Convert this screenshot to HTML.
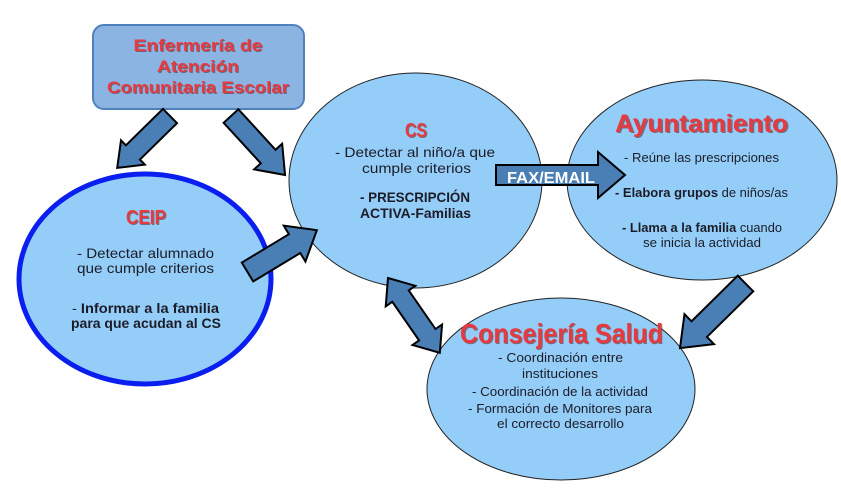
<!DOCTYPE html>
<html><head><meta charset="utf-8"><style>
html,body{margin:0;padding:0;background:#fff;}
svg{display:block;}
text{font-family:"Liberation Sans",sans-serif;}
.t{fill:#1c1c28;font-size:14px;text-anchor:middle;}
.s{fill:#1c1c28;font-size:13px;text-anchor:middle;}
.r{fill:#e8393f;font-weight:bold;text-anchor:middle;}
.sh{fill:#5a2020;opacity:.55;font-weight:bold;text-anchor:middle;}
.a{fill:#4a7fb6;stroke:#000;stroke-width:2;stroke-linejoin:miter;}
</style></head><body>
<svg width="841" height="499" viewBox="0 0 841 499" xmlns="http://www.w3.org/2000/svg">
<!-- ellipses -->
<ellipse cx="145" cy="279" rx="126" ry="105" fill="#93cdf8" stroke="#0a1ef0" stroke-width="5"/>
<ellipse cx="415.5" cy="180.5" rx="126.5" ry="107.5" fill="#93cdf8" stroke="#222" stroke-width="1"/>
<ellipse cx="702" cy="180" rx="135" ry="100" fill="#93cdf8" stroke="#222" stroke-width="1"/>
<ellipse cx="561" cy="389" rx="134" ry="91" fill="#93cdf8" stroke="#222" stroke-width="1"/>

<!-- top box -->
<rect x="93" y="25" width="211" height="84" rx="11" fill="#8cb4e2" stroke="#4f81bd" stroke-width="2"/>
<text class="sh" x="199" y="52" font-size="17" textLength="129" lengthAdjust="spacingAndGlyphs">Enfermería de</text>
<text class="r" x="198" y="51" font-size="17" textLength="129" lengthAdjust="spacingAndGlyphs">Enfermería de</text>
<text class="sh" x="199" y="73" font-size="17" textLength="82" lengthAdjust="spacingAndGlyphs">Atención</text>
<text class="r" x="198" y="72" font-size="17" textLength="82" lengthAdjust="spacingAndGlyphs">Atención</text>
<text class="sh" x="199" y="94" font-size="17" textLength="182" lengthAdjust="spacingAndGlyphs">Comunitaria Escolar</text>
<text class="r" x="198" y="93" font-size="17" textLength="182" lengthAdjust="spacingAndGlyphs">Comunitaria Escolar</text>

<!-- arrows -->
<g transform="translate(170,116) rotate(135.5)"><polygon class="a" points="0,-10 52,-10 52,-17 74,0 52,17 52,10 0,10"/></g>
<g transform="translate(231,116) rotate(47.5)"><polygon class="a" points="0,-10 55,-10 55,-19 80,0 55,19 55,10 0,10"/></g>
<g transform="translate(247.5,272) rotate(-31.1)"><polygon class="a" points="0,-11 55,-11 55,-21 81,0 55,21 55,11 0,11"/></g>
<g transform="translate(388,278) rotate(55.3)"><polygon class="a" points="0,0 22,-18 22,-10 69,-10 69,-18 91,0 69,18 69,10 22,10 22,18"/></g>
<g transform="translate(496,175)"><polygon class="a" points="0,-10 102,-10 102,-23 129,0 102,23 102,10 0,10"/></g>
<g transform="translate(745.5,283.5) rotate(135.4)"><polygon class="a" points="0,-11 65,-11 65,-21 92,0 65,21 65,11 0,11"/></g>

<text x="551" y="183" fill="#fff" font-weight="bold" font-size="16" text-anchor="middle" textLength="88" lengthAdjust="spacingAndGlyphs">FAX/EMAIL</text>

<!-- CEIP -->
<text class="sh" x="147" y="225" font-size="20" textLength="40" lengthAdjust="spacingAndGlyphs">CEIP</text>
<text class="r" x="146" y="224" font-size="20" textLength="40" lengthAdjust="spacingAndGlyphs">CEIP</text>
<text class="t" x="145.5" y="258" textLength="137" lengthAdjust="spacingAndGlyphs">- Detectar alumnado</text>
<text class="t" x="145.5" y="273" textLength="137" lengthAdjust="spacingAndGlyphs">que cumple criterios</text>
<text class="t" x="145.5" y="313" textLength="147" lengthAdjust="spacingAndGlyphs">- <tspan font-weight="bold">Informar a la familia</tspan></text>
<text class="t" x="146" y="328" font-weight="bold" textLength="150" lengthAdjust="spacingAndGlyphs">para que acudan al CS</text>

<!-- CS -->
<text class="sh" x="417" y="138" font-size="20" textLength="22" lengthAdjust="spacingAndGlyphs">CS</text>
<text class="r" x="416" y="137" font-size="20" textLength="22" lengthAdjust="spacingAndGlyphs">CS</text>
<text class="t" x="415" y="157" textLength="160" lengthAdjust="spacingAndGlyphs">- Detectar al niño/a que</text>
<text class="t" x="416.5" y="173" textLength="109" lengthAdjust="spacingAndGlyphs">cumple criterios</text>
<text class="t" x="415" y="202" font-weight="bold" textLength="110" lengthAdjust="spacingAndGlyphs">- PRESCRIPCIÓN</text>
<text class="t" x="415.5" y="218" font-weight="bold" textLength="111" lengthAdjust="spacingAndGlyphs">ACTIVA-Familias</text>

<!-- Ayuntamiento -->
<text class="sh" x="703" y="133" font-size="25" textLength="173" lengthAdjust="spacingAndGlyphs">Ayuntamiento</text>
<text class="r" x="701.5" y="132" font-size="25" textLength="173" lengthAdjust="spacingAndGlyphs">Ayuntamiento</text>
<text class="s" x="701.5" y="162" textLength="155" lengthAdjust="spacingAndGlyphs">- Reúne las prescripciones</text>
<text class="s" x="701.5" y="197" textLength="173" lengthAdjust="spacingAndGlyphs"><tspan font-weight="bold">- Elabora grupos</tspan> de niños/as</text>
<text class="s" x="702" y="232" textLength="160" lengthAdjust="spacingAndGlyphs"><tspan font-weight="bold">- Llama a la familia</tspan> cuando</text>
<text class="s" x="702" y="247" textLength="118" lengthAdjust="spacingAndGlyphs">se inicia la actividad</text>

<!-- Consejería -->
<text class="sh" x="562.5" y="344" font-size="28" textLength="203" lengthAdjust="spacingAndGlyphs">Consejería Salud</text>
<text class="r" x="561.5" y="343" font-size="28" textLength="203" lengthAdjust="spacingAndGlyphs">Consejería Salud</text>
<text class="s" x="560.5" y="362" textLength="125" lengthAdjust="spacingAndGlyphs">- Coordinación entre</text>
<text class="s" x="560" y="378" textLength="76" lengthAdjust="spacingAndGlyphs">instituciones</text>
<text class="s" x="560" y="396" textLength="176" lengthAdjust="spacingAndGlyphs">- Coordinación de la actividad</text>
<text class="s" x="560" y="413" textLength="184" lengthAdjust="spacingAndGlyphs">- Formación de Monitores para</text>
<text class="s" x="560.5" y="428" textLength="127" lengthAdjust="spacingAndGlyphs">el correcto desarrollo</text>
</svg>
</body></html>
